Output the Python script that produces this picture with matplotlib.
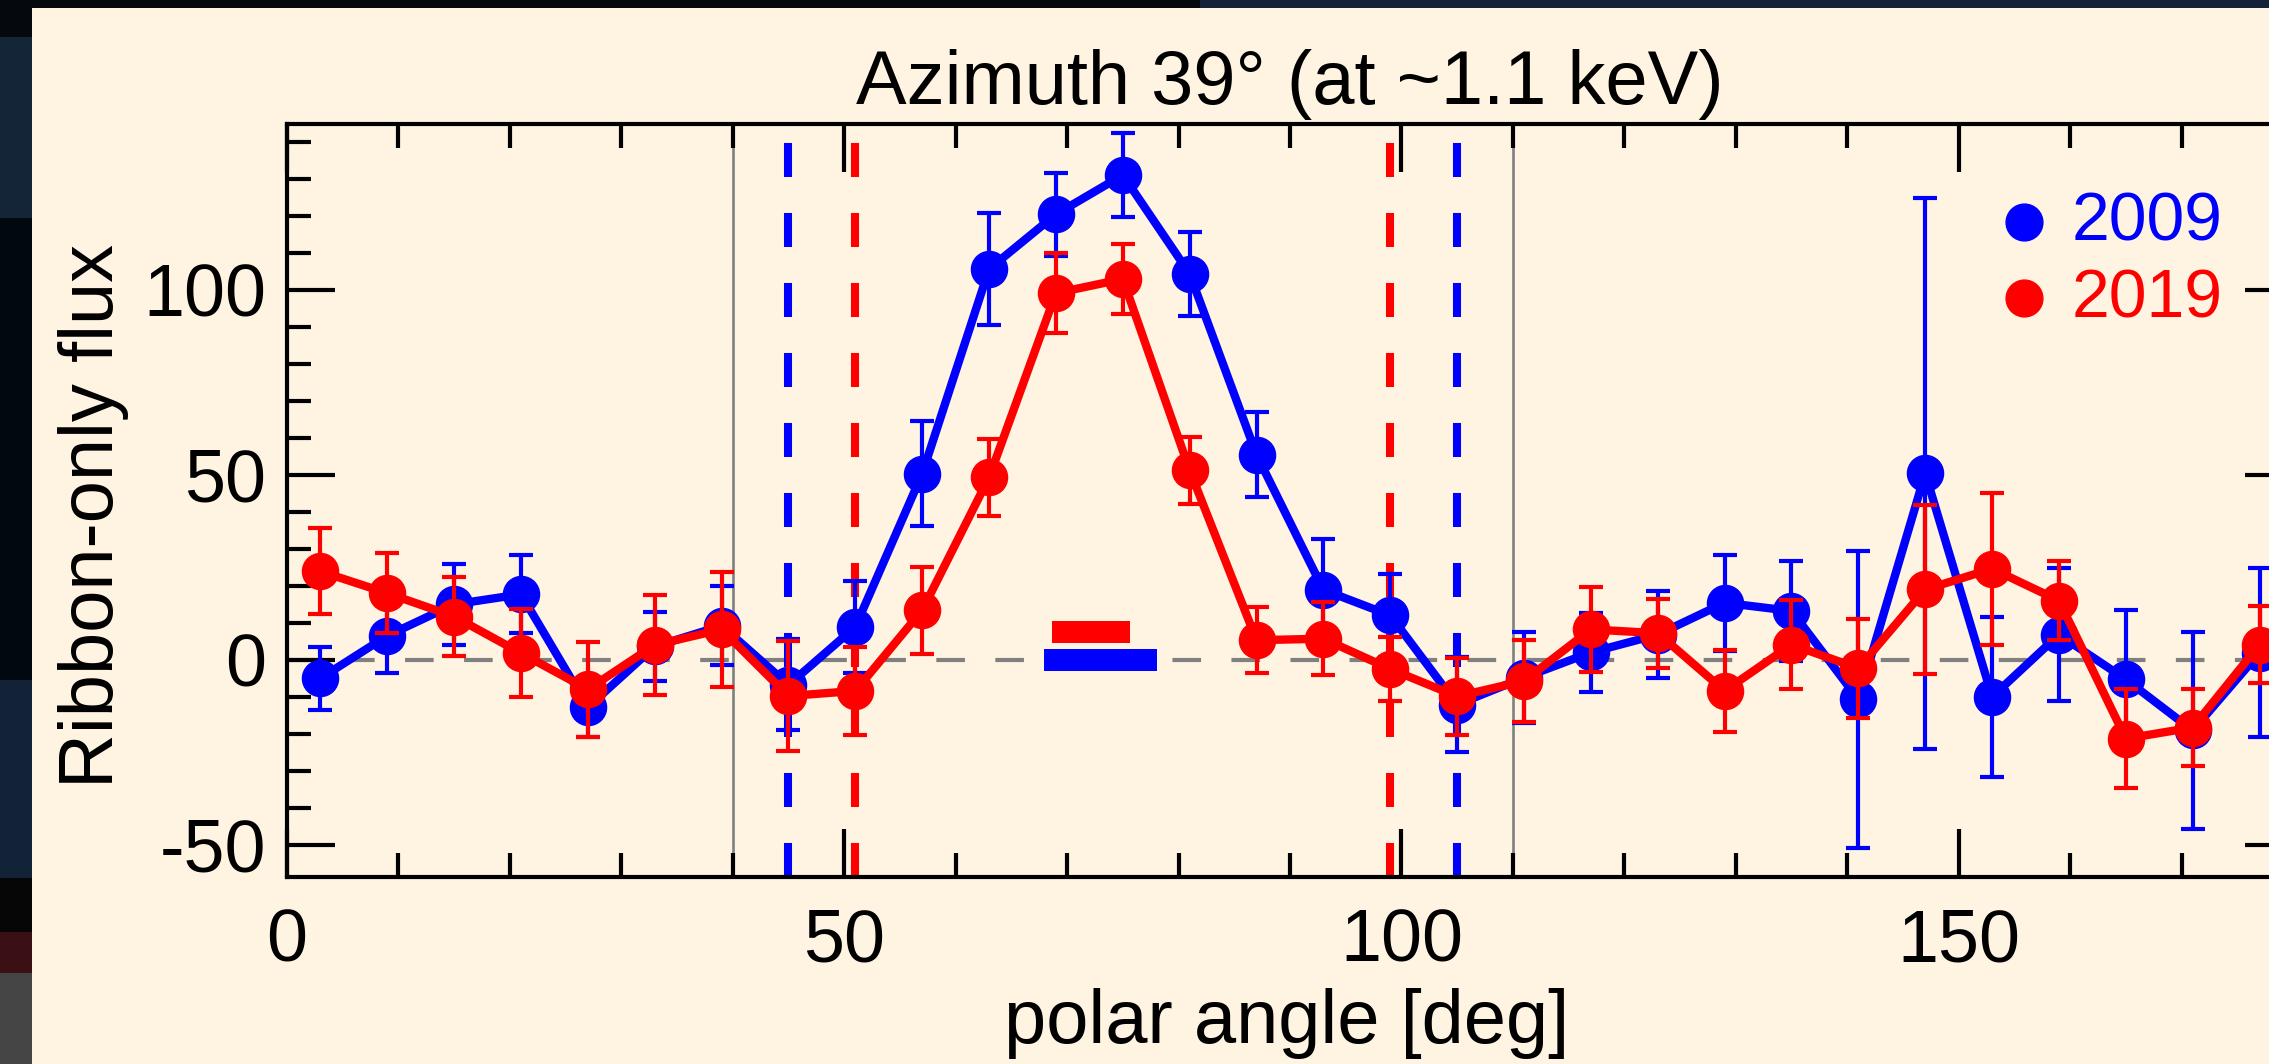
import numpy as np
import matplotlib.pyplot as plt
from matplotlib.patches import Rectangle

plt.rcParams['font.family'] = ['Liberation Sans', 'DejaVu Sans']
plt.rcParams['axes.unicode_minus'] = False
plt.rcParams['lines.scale_dashes'] = False

# polar angle bins [deg]
angle = [3, 9, 15, 21, 27, 33, 39, 45, 51, 57, 63, 69, 75, 81, 87,
         93, 99, 105, 111, 117, 123, 129, 135, 141, 147, 153, 159, 165, 171, 177]

# 2009 ribbon-only flux and errors
flux09 = [-5.0, 6.5, 15.0, 17.7, -12.8, 3.6, 9.2, -6.8, 8.9, 50.3, 105.6, 120.4, 131.0, 104.3, 55.4,
          18.9, 12.0, -12.1, -4.8, 2.0, 6.8, 15.4, 13.2, -10.7, 50.4, -10.0, 6.8, -5.3, -19.1, 1.9]
err09 = [8.5, 10.0, 10.9, 10.5, 8.0, 9.2, 10.7, 12.3, 12.5, 14.2, 15.1, 11.2, 11.4, 11.3, 11.5,
         13.8, 11.3, 12.9, 12.4, 10.7, 11.8, 12.9, 13.6, 40.2, 74.5, 21.7, 18.0, 18.7, 26.7, 22.8]

# 2019 ribbon-only flux and errors
flux19 = [23.9, 18.0, 11.7, 1.8, -8.0, 4.0, 8.2, -9.8, -8.4, 13.4, 49.3, 99.1, 102.9, 51.2, 5.3,
          5.7, -2.5, -9.9, -5.7, 8.2, 7.2, -8.4, 4.1, -2.3, 19.0, 24.6, 16.0, -21.3, -18.3, 4.1]
err19 = [11.6, 10.8, 10.7, 11.9, 12.8, 13.5, 15.5, 14.9, 11.9, 11.8, 10.4, 10.8, 9.5, 9.1, 8.9,
         9.8, 8.7, 10.4, 11.1, 11.4, 9.3, 11.0, 12.1, 13.3, 22.9, 20.6, 10.6, 13.3, 10.3, 10.4]

# reference lines
window = [40, 110]
edges09 = [45, 105]
edges19 = [51, 99]

# peak bars: (left, right, y)
bar09 = (67.9, 78.1, 0.0)
bar19 = (68.6, 75.6, 7.4)

cream = '#FFF4E2'
W, H = 2269, 1064
fig = plt.figure(figsize=(W / 100, H / 100), dpi=100, facecolor=cream)

# dark screenshot border on the left and top
strip = [(0, 37, '#05080c'), (37, 218, '#142538'), (218, 680, '#020810'),
         (680, 878, '#122338'), (878, 932, '#060606'), (932, 973, '#3a1015'),
         (973, 1064, '#454545')]
for y0, y1, c in strip:
    fig.add_artist(Rectangle((0, (H - y1) / H), 32 / W, (y1 - y0) / H,
                             transform=fig.transFigure, color=c, lw=0))
fig.add_artist(Rectangle((0, (H - 8) / H), 1200 / W, 8 / H,
                         transform=fig.transFigure, color='#05080c', lw=0))
fig.add_artist(Rectangle((1200 / W, (H - 8) / H), 1069 / W, 8 / H,
                         transform=fig.transFigure, color='#132236', lw=0))

ax = fig.add_axes([287 / W, (H - 877) / H, 2006 / W, 753 / H])
ax.set_facecolor(cream)
ax.set_xlim(0, 180)
ax.set_ylim(-58.7, 144.8)

ax.axhline(0, color='#808080', lw=3.0, dashes=(20.6, 21.9), zorder=1)
for x in window:
    ax.axvline(x, color='#808080', lw=1.9, zorder=1)
for x in edges09:
    ax.axvline(x, color='blue', lw=5.8, dashes=(24.5, 25.9), zorder=1)
for x in edges19:
    ax.axvline(x, color='red', lw=5.8, dashes=(24.5, 25.9), zorder=1)

ax.barh([bar09[2]], [bar09[1] - bar09[0]], left=[bar09[0]], height=5.9, color='blue', zorder=2)
ax.barh([bar19[2]], [bar19[1] - bar19[0]], left=[bar19[0]], height=5.9, color='red', zorder=2)

ax.plot(angle, flux09, '-o', color='blue', lw=6, ms=26, zorder=3)
ax.errorbar(angle, flux09, yerr=err09, fmt='none', ecolor='blue',
            elinewidth=3, capsize=8.5, capthick=3, zorder=3)
ax.plot(angle, flux19, '-o', color='red', lw=6, ms=26, zorder=4)
ax.errorbar(angle, flux19, yerr=err19, fmt='none', ecolor='red',
            elinewidth=3, capsize=8.5, capthick=3, zorder=4)

# legend
ax.plot([0.8659], [0.8705], 'o', color='blue', ms=26.5, transform=ax.transAxes, clip_on=False)
ax.plot([0.8659], [0.7693], 'o', color='red', ms=26.5, transform=ax.transAxes, clip_on=False)
ax.text(0.8897, 0.8455, '2009', color='blue', fontsize=49, va='baseline', transform=ax.transAxes)
ax.text(0.8897, 0.7424, '2019', color='red', fontsize=49, va='baseline', transform=ax.transAxes)

ax.set_xticks([0, 50, 100, 150])
ax.set_xticks(np.arange(0, 181, 10), minor=True)
ax.set_yticks([-50, 0, 50, 100])
ax.set_yticks(np.arange(-50, 141, 10), minor=True)
ax.tick_params(which='both', direction='in', top=True, right=True, width=3.0, labelsize=53)
ax.tick_params(which='major', length=34.5)
ax.tick_params(which='minor', length=17.3)
ax.tick_params(axis='x', pad=22)
ax.tick_params(axis='y', pad=15)
for s in ax.spines.values():
    s.set_linewidth(3.0)

ax.set_title('Azimuth 39° (at ~1.1 keV)', fontsize=54.6, pad=14.4)
ax.set_xlabel('polar angle [deg]', fontsize=54.6)
ax.xaxis.label.set_va('baseline')
ax.xaxis.set_label_coords(0.4983, -0.2205)
ax.set_ylabel('Ribbon-only flux', fontsize=54.6)
ax.yaxis.label.set_va('baseline')
ax.yaxis.set_label_coords(-0.0867, 0.480)

fig.savefig('out.png', dpi=100, facecolor=fig.get_facecolor())
